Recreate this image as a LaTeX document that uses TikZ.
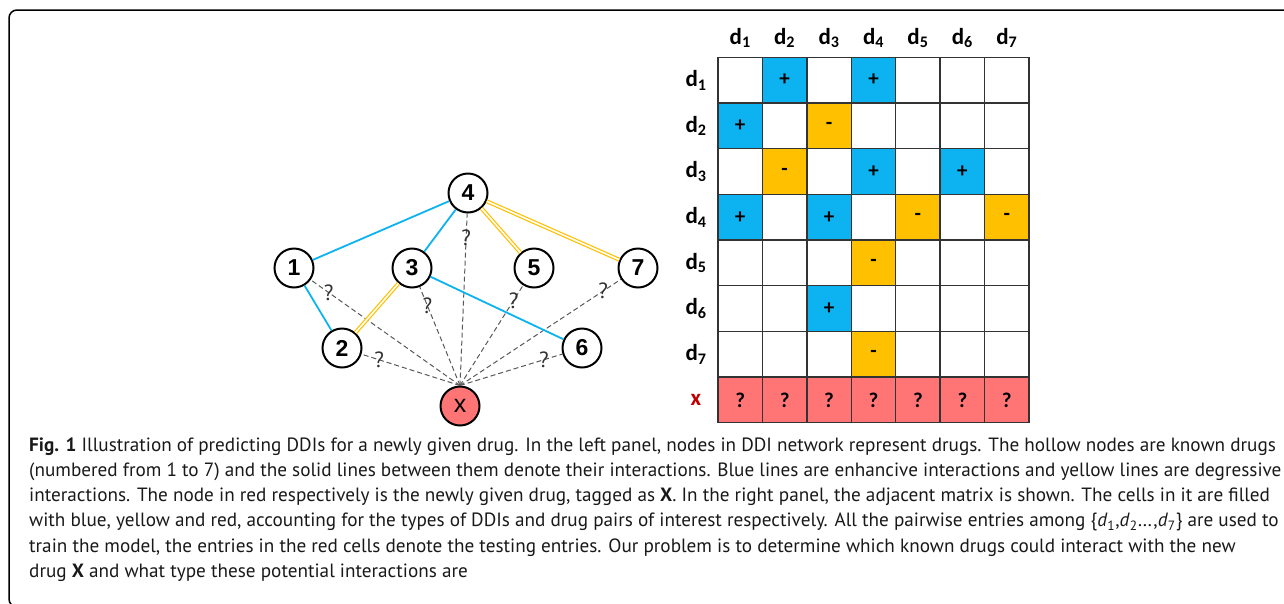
\documentclass[tikz,border=0pt]{standalone}
\usepackage{fontspec}
\setmainfont{PT Sans}
\newfontfamily\calfont{Carlito}
\newfontfamily\digitfont{Liberation Sans}
\definecolor{enhblue}{HTML}{0DB3F0}
\definecolor{degyellow}{HTML}{FFC000}
\definecolor{newred}{HTML}{FF7575}
\definecolor{xred}{HTML}{C00000}
\tikzset{
  drugnode/.style={circle, draw=black, line width=2pt, fill=white, minimum size=39pt, inner sep=0pt,
    font=\digitfont\fontsize{23}{23}\selectfont\bfseries},
  newnode/.style={drugnode, fill=newred, font=\digitfont\fontsize{25}{25}\selectfont},
  enhline/.style={draw=enhblue, line width=1.8pt},
  degline/.style={draw=degyellow, double=white, double distance=1.6pt, line width=1.2pt},
  queryline/.style={draw=black!65, dash pattern=on 5pt off 3pt, line width=1pt},
  querymark/.style={font=\fontsize{22}{22}\selectfont, text=black!80, inner sep=0pt},
  cell/.style={minimum width=44.43pt, minimum height=45.68pt, inner sep=0pt,
    font=\calfont\fontsize{21}{21}\selectfont\bfseries},
  gridline/.style={draw=black!80, line width=1.5pt, line cap=rect},
  headtext/.style={font=\calfont\fontsize{23}{23}\selectfont\bfseries},
  captext/.style={anchor=base west, inner sep=0pt, font=\fontsize{19.2}{19.2}\selectfont, text=black!90}
}
\newcommand{\dsub}[1]{\textit{d}\textsubscript{#1}}

\begin{document}
\begin{tikzpicture}[x=1pt, y=-1pt]
  \useasboundingbox (0,0) rectangle (1284,603);
  % frame
  \draw[line width=1.5pt, rounded corners=8pt] (1300,10) -- (9,10) -- (9,607) -- (40,607);

  % left panel: DDI network
  \node[drugnode] (n4) at (468,193) {4};
  \node[drugnode] (n1) at (294,268) {1};
  \node[drugnode] (n3) at (412,268) {3};
  \node[drugnode] (n5) at (534,268) {5};
  \node[drugnode] (n7) at (638,268) {7};
  \node[drugnode] (n2) at (342,348) {2};
  \node[drugnode] (n6) at (582,348) {6};
  \node[newnode] (nx) at (460,406) {x};
  % unknown pairs with the new drug
  \foreach \n/\p in {1/0.88, 2/0.82, 3/0.81, 4/0.86, 5/0.85, 6/0.82, 7/0.89}
    \draw[queryline] (nx.north) -- (n\n) node[querymark, pos=\p] (q\n) {?};
  % enhancive
  \draw[enhline] (n1) -- (n4);
  \draw[enhline] (n1) -- (n2);
  \draw[enhline] (n4) -- (n3);
  \draw[enhline] (n3) -- (n6);
  % degressive
  \draw[degline] (n4) -- (n5);
  \draw[degline] (n4) -- (n7);
  \draw[degline] (n3) -- (n2);

  % right panel: adjacent matrix
  \foreach \c in {1,...,7}
    \node[headtext] (col\c) at ({718+44.43*(\c-0.5)},38) {d\textsubscript{\c}};
  \foreach \r in {1,...,7}
    \node[headtext] (row\r) at (696,{57.3+45.68*(\r-0.5)}) {d\textsubscript{\r}};
  \node[headtext, text=xred] (rowx) at (696,{57.3+45.68*7.5}) {x};
  \foreach \r/\c/\f/\v in {
    1/2/enhblue/+, 1/4/enhblue/+,
    2/1/enhblue/+, 2/3/degyellow/-,
    3/2/degyellow/-, 3/4/enhblue/+, 3/6/enhblue/+,
    4/1/enhblue/+, 4/3/enhblue/+, 4/5/degyellow/-, 4/7/degyellow/-,
    5/4/degyellow/-, 6/3/enhblue/+, 7/4/degyellow/-}
    \node[cell, fill=\f] (m\r-\c) at ({718+44.43*(\c-0.5)},{57.3+45.68*(\r-0.5)}) {\v};
  \foreach \c in {1,...,7}
    \node[cell, fill=newred] (mx-\c) at ({718+44.43*(\c-0.5)},{57.3+45.68*7.5}) {?};
  \foreach \i in {0,...,7}
    \draw[gridline] ({718+44.43*\i},57.3) -- ({718+44.43*\i},422.7);
  \foreach \j in {0,...,8}
    \draw[gridline] (718,{57.3+45.68*\j}) -- (1029,{57.3+45.68*\j});

  % caption
  \node[captext] (cap1) at (29,451) {\textbf{Fig. 1} Illustration of predicting DDIs for a newly given drug. In the left panel, nodes in DDI network represent drugs. The hollow nodes are known drugs};
  \node[captext] (cap2) at (29,476.3) {(numbered from 1 to 7) and the solid lines between them denote their interactions. Blue lines are enhancive interactions and yellow lines are degressive};
  \node[captext] (cap3) at (29,501.6) {interactions. The node in red respectively is the newly given drug, tagged as \textbf{X}. In the right panel, the adjacent matrix is shown. The cells in it are filled};
  \node[captext] (cap4) at (29,526.9) {with blue, yellow and red, accounting for the types of DDIs and drug pairs of interest respectively. All the pairwise entries among \{\dsub{1},\dsub{2}\ldots,\dsub{7}\} are used to};
  \node[captext] (cap5) at (29,552.2) {train the model, the entries in the red cells denote the testing entries. Our problem is to determine which known drugs could interact with the new};
  \node[captext] (cap6) at (29,577.5) {drug \textbf{X} and what type these potential interactions are};
\end{tikzpicture}
\end{document}
